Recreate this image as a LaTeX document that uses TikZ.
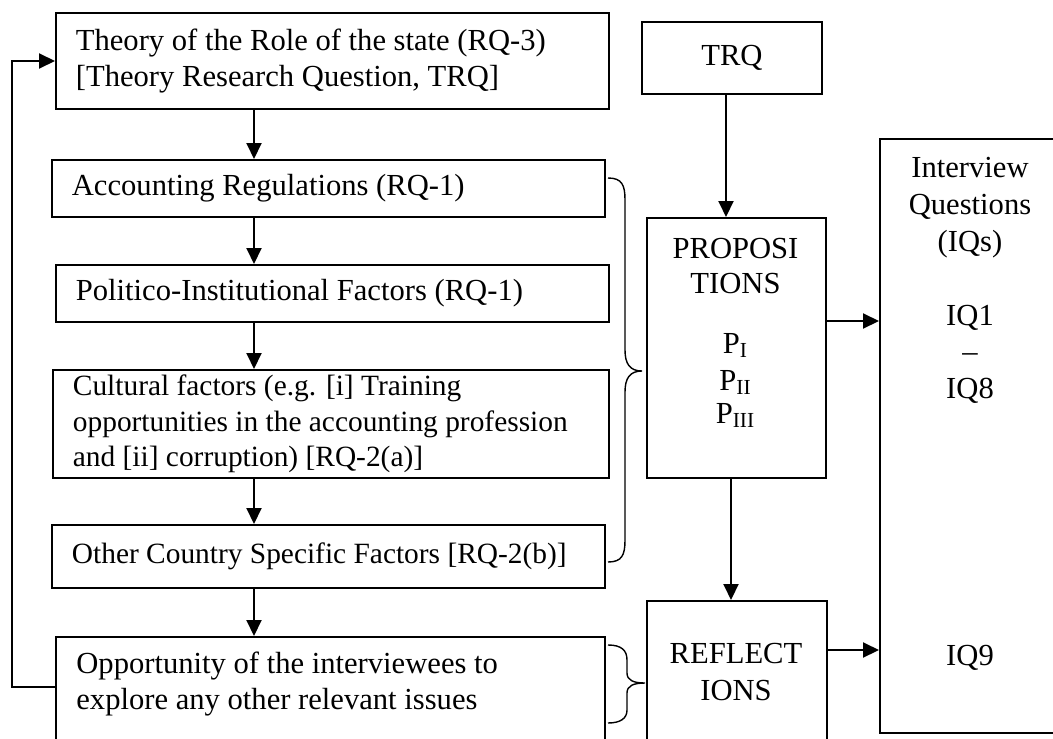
\documentclass[tikz,border=0pt]{standalone}
\usepackage{fontspec}
\setmainfont{Liberation Serif}
\usetikzlibrary{arrows.meta,calc}
\begin{document}
\begin{tikzpicture}[x=0.5pt,y=-0.5pt,
  every node/.style={font=\fontsize{15.3}{17.8}\selectfont},
  box/.style={draw, line width=0.9pt, anchor=north west, inner sep=0pt},
  leftbox/.style={box, inner xsep=10pt, align=flush left},
  smalltext/.style={font=\fontsize{14.7}{17.8}\selectfont},
  txt/.style={anchor=base, inner sep=0pt},
  ltxt/.style={anchor=base west, inner sep=0pt},
  arr/.style={line width=1pt, -{Triangle[length=8pt,width=7.5pt]}},
  bracepath/.style={line width=0.7pt}
]
\useasboundingbox (0,0) rectangle (1053,738);

% left column: research questions
\node[leftbox, minimum width=276.5pt, text width=256.5pt, minimum height=48pt] (theory) at (55,12)
  {Theory of the Role of the state (RQ-3)\\{}[Theory Research Question, TRQ]};
\node[leftbox, minimum width=276.5pt, text width=256.5pt, minimum height=28.5pt] (acc) at (51,159)
  {Accounting Regulations (RQ-1)};
\node[leftbox, minimum width=276.5pt, text width=256.5pt, minimum height=28.5pt] (pol) at (55,264)
  {Politico-Institutional Factors (RQ-1)};
\node[leftbox, smalltext, minimum width=278pt, text width=258pt, minimum height=54pt] (cul) at (52,369)
  {Cultural factors (e.g. [i] Training\\opportunities in the accounting profession\\and [ii] corruption) [RQ-2(a)]};
\node[leftbox, smalltext, minimum width=276.5pt, text width=256.5pt, minimum height=31.5pt] (oth) at (51,524)
  {Other Country Specific Factors [RQ-2(b)]};
\node[box, minimum width=274.5pt, minimum height=60pt] (opp) at (55,636) {};
\node[ltxt] (opp1) at (76,673) {Opportunity of the interviewees to};
\node[ltxt] (opp2) at (76,709) {explore any other relevant issues};

% middle column
\node[box, minimum width=90pt, minimum height=36pt] (trq) at (641,21) {TRQ};
\node[box, minimum width=89.5pt, minimum height=130pt] (prop) at (646,217) {};
\node[txt] (prop1) at (735.5,258) {PROPOSI};
\node[txt] (prop2) at (735.5,293) {TIONS};
\node[txt] (pI)   at (735.5,353) {P\textsubscript{I}};
\node[txt] (pII)  at (735.5,390) {P\textsubscript{II}};
\node[txt] (pIII) at (735.5,423) {P\textsubscript{III}};

\node[box, minimum width=90pt, minimum height=80pt] (refl) at (646,600) {};
\node[txt] (refl1) at (736,663) {REFLECT};
\node[txt] (refl2) at (736,700) {IONS};

% right column: interview questions
\node[box, minimum width=91pt, minimum height=297pt] (iq) at (879,138) {};
\node[txt] (iq1) at (970,177) {Interview};
\node[txt] (iq2) at (970,214) {Questions};
\node[txt] (iq3) at (970,251) {(IQs)};
\node[txt] (iqa) at (970,325) {IQ1};
\node[txt] (iqd) at (970,361) {\textendash};
\node[txt] (iqb) at (970,398) {IQ8};
\node[txt] (iqc) at (970,665) {IQ9};

% connectors
\coordinate (lx) at (254,0);
\draw[arr] (theory.south -| lx) -- (acc.north -| lx);
\draw[arr] (acc.south -| lx) -- (pol.north -| lx);
\draw[arr] (pol.south -| lx) -- (cul.north -| lx);
\draw[arr] (cul.south -| lx) -- (oth.north -| lx);
\draw[arr] (oth.south -| lx) -- (opp.north -| lx);

\coordinate (tx) at (726,0);
\coordinate (px) at (731,0);
\draw[arr] (trq.south -| tx) -- (prop.north -| tx);
\draw[arr] (prop.south -| px) -- (refl.north -| px);

\coordinate (ya) at (0,321);
\coordinate (yb) at (0,650);
\draw[arr] (prop.east |- ya) -- (iq.west |- ya);
\draw[arr] (refl.east |- yb) -- (iq.west |- yb);

% feedback loop back to the theory question
\coordinate (fbB) at (12,687);
\coordinate (fbT) at (12,61);
\draw[arr] (opp.west |- fbB) -- (fbB) -- (fbT) -- (theory.west |- fbT);

% braces
\draw[bracepath] (608,178) .. controls (622,178) and (625,185) .. (625,200)
  -- (625,350) .. controls (625,364) and (630,371) .. (642,371)
  .. controls (630,371) and (625,378) .. (625,392)
  -- (625,540) .. controls (625,555) and (622,562) .. (608,562);
\draw[bracepath] (608,645) .. controls (621,645) and (627,650) .. (627,660)
  -- (627,673) .. controls (627,680) and (633,683) .. (645,683)
  .. controls (633,683) and (627,686) .. (627,693)
  -- (627,710) .. controls (627,718) and (621,723) .. (608,723);
\end{tikzpicture}
\end{document}
